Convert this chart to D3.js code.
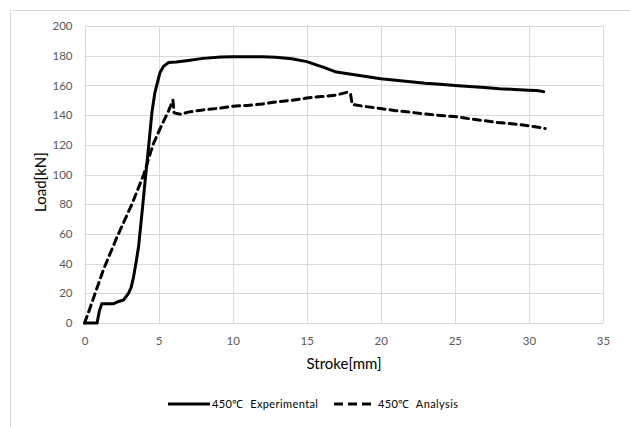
<!DOCTYPE html>
<html>
<head>
<meta charset="utf-8">
<script src="https://cdn.jsdelivr.net/npm/d3@7"></script>
<style>
  body { margin: 0; background: #fff; }
  text { font-family: Lato, "Open Sans", sans-serif; }
</style>
</head>
<body>
<svg id="chart" width="630" height="427"></svg>
<script>
// Experimental curve (stroke mm, load kN)
var expStroke = [0, 0.85, 1.0, 1.17, 1.5, 1.97, 2.3, 2.64, 2.97, 3.15, 3.31, 3.5, 3.65, 3.88, 4.1, 4.33, 4.55, 4.75, 4.9, 5.1, 5.35, 5.68, 6.2, 7.0, 8.0, 9.2, 10, 11, 12, 12.9, 14, 15, 15.6, 16.2, 17, 18, 19, 20, 21, 22, 23, 24, 25, 26, 27, 28, 29, 30, 30.5, 31];
var expLoad   = [0, 0, 8, 13, 13, 13, 14.5, 15.5, 20, 24, 31, 42, 51.5, 74, 96.6, 119, 141.7, 155, 161, 168.7, 173, 175.4, 175.7, 176.8, 178.2, 179.2, 179.3, 179.3, 179.3, 179, 178, 176, 174, 172, 169, 167.5, 166, 164.5, 163.5, 162.5, 161.5, 160.8, 160, 159.3, 158.6, 157.8, 157.3, 156.8, 156.5, 155.8];

// Analysis curve
var anaStroke = [0, 0.3, 1.28, 2.2, 3.2, 4.0, 4.62, 5.2, 5.68, 5.97, 6.05, 6.5, 7, 8, 9, 10, 11, 12, 13, 14, 15, 16, 17, 17.7, 17.95, 18.07, 18.8, 20, 21, 22.2, 23, 24, 25, 26, 27, 27.9, 29, 30, 31.1];
var anaLoad   = [0, 8, 36, 58, 80, 100, 120, 133, 143, 150, 141.5, 140.5, 142, 143.5, 144.5, 146, 146.5, 147.5, 149, 150, 151.5, 152.5, 153.5, 155.3, 154.5, 147.3, 146, 144.4, 143, 141.7, 140.8, 139.8, 139, 137.5, 136.2, 135, 134, 132.8, 131];

var xTicks = [0, 5, 10, 15, 20, 25, 30, 35];
var yTicks = [0, 20, 40, 60, 80, 100, 120, 140, 160, 180, 200];
var seriesNames = ["450\u2103\u00a0\u00a0Experimental", "450\u2103\u00a0\u00a0Analysis"];

var svg = d3.select("#chart");

// Outer chart border (only top and left visible)
svg.append("path")
    .attr("d", "M10.5,427 V10.5 H630")
    .attr("fill", "none")
    .attr("stroke", "#d9d9d9")
    .attr("stroke-width", 1);

var plotLeft = 84.5, plotRight = 603, plotTop = 26, plotBottom = 323;

var x = d3.scaleLinear().domain([0, 35]).range([plotLeft, plotRight]);
var y = d3.scaleLinear().domain([0, 200]).range([plotBottom, plotTop]);

// Gridlines
svg.append("g").selectAll("line")
    .data(xTicks)
  .enter().append("line")
    .attr("x1", function(d) { return Math.round(x(d)) + 0.5; })
    .attr("x2", function(d) { return Math.round(x(d)) + 0.5; })
    .attr("y1", plotTop)
    .attr("y2", plotBottom)
    .attr("stroke", "#d9d9d9");

svg.append("g").selectAll("line")
    .data(yTicks)
  .enter().append("line")
    .attr("x1", plotLeft)
    .attr("x2", plotRight)
    .attr("y1", function(d) { return Math.round(y(d)) + 0.5; })
    .attr("y2", function(d) { return Math.round(y(d)) + 0.5; })
    .attr("stroke", "#d9d9d9");

// Axes (tick labels only)
var xAxis = d3.axisBottom(x).tickValues(xTicks).tickSize(0).tickPadding(14);
var yAxis = d3.axisLeft(y).tickValues(yTicks).tickSize(0).tickPadding(12);

var gx = svg.append("g").attr("transform", "translate(0," + plotBottom + ")").call(xAxis);
var gy = svg.append("g").attr("transform", "translate(" + plotLeft + ",0)").call(yAxis);
[gx, gy].forEach(function(g) {
    g.select(".domain").remove();
    g.selectAll("text")
        .attr("fill", "#595959")
        .style("font-size", "11.5px")
        .style("font-family", "Lato, sans-serif");
});

// Lines
var line = d3.line()
    .x(function(d) { return x(d[0]); })
    .y(function(d) { return y(d[1]); });

var expData = d3.zip(expStroke, expLoad);
var anaData = d3.zip(anaStroke, anaLoad);

svg.append("path")
    .datum(expData)
    .attr("d", line)
    .attr("fill", "none")
    .attr("stroke", "#000")
    .attr("stroke-width", 3)
    .attr("stroke-linejoin", "round")
    .attr("stroke-linecap", "round");

svg.append("path")
    .datum(anaData)
    .attr("d", line)
    .attr("fill", "none")
    .attr("stroke", "#000")
    .attr("stroke-width", 3)
    .attr("stroke-dasharray", "7,5")
    .attr("stroke-linejoin", "round")
    .attr("stroke-linecap", "round");

// Axis titles
svg.append("text")
    .attr("x", 344)
    .attr("y", 369)
    .attr("text-anchor", "middle")
    .attr("fill", "#000")
    .style("font-size", "15px")
    .text("Stroke[mm]");

svg.append("text")
    .attr("transform", "translate(46,182) rotate(-90)")
    .attr("text-anchor", "middle")
    .attr("fill", "#000")
    .style("font-size", "15px")
    .text("Load[kN]");

// Legend
var legendY = 404;
var legend = svg.append("g");
legend.append("line")
    .attr("x1", 168).attr("x2", 210)
    .attr("y1", legendY).attr("y2", legendY)
    .attr("stroke", "#000").attr("stroke-width", 3);
legend.append("text")
    .attr("x", 212).attr("y", legendY + 4)
    .style("font-size", "11px")
    .style("letter-spacing", "0.4px")
    .attr("fill", "#000")
    .text(seriesNames[0]);
legend.append("line")
    .attr("x1", 334).attr("x2", 371)
    .attr("y1", legendY).attr("y2", legendY)
    .attr("stroke", "#000").attr("stroke-width", 3)
    .attr("stroke-dasharray", "9,5");
legend.append("text")
    .attr("x", 378).attr("y", legendY + 4)
    .style("font-size", "11px")
    .style("letter-spacing", "0.4px")
    .attr("fill", "#000")
    .text(seriesNames[1]);
</script>
</body>
</html>
